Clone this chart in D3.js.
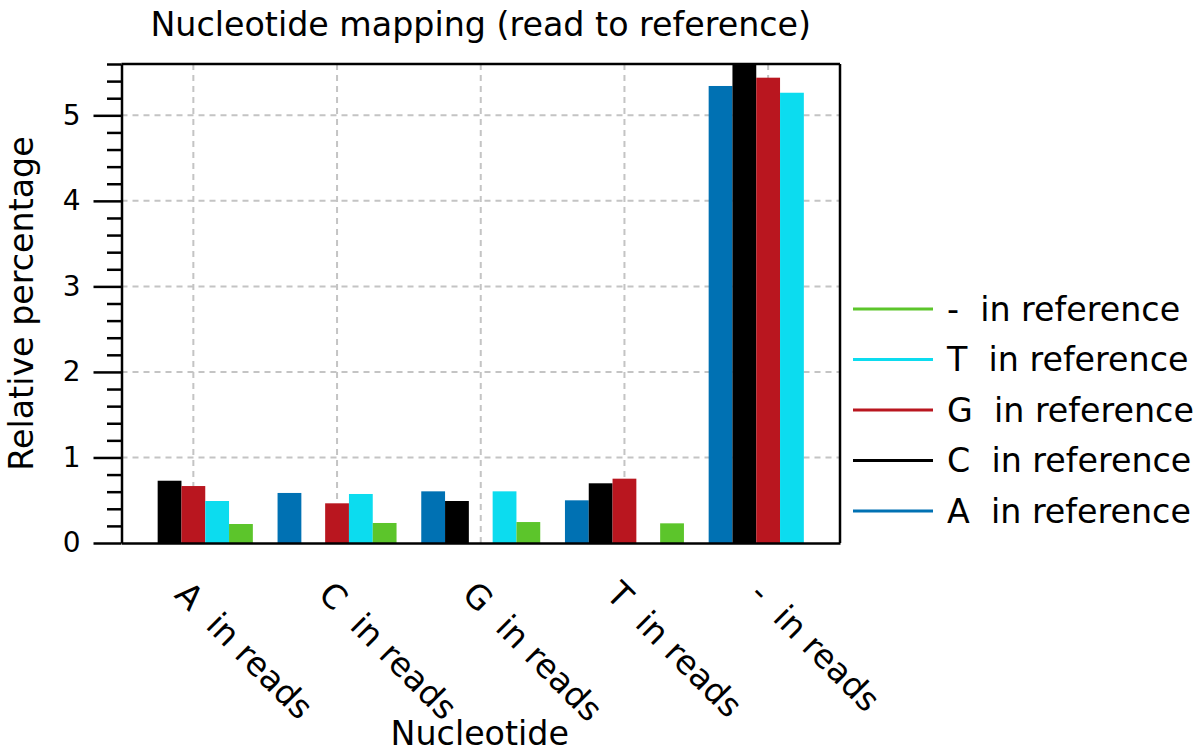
<!DOCTYPE html>
<html>
<head>
<meta charset="utf-8">
<script src="https://cdn.jsdelivr.net/npm/d3@7"></script>
<style>
  html, body { margin: 0; padding: 0; background: #fff; }
  svg { display: block; font-family: "DejaVu Sans", sans-serif; }
</style>
</head>
<body>
<svg id="chart" width="1203" height="753"></svg>
<script>
// ---- data ----
const categories = ["A  in reads", "C  in reads", "G  in reads", "T  in reads", "-  in reads"];
const seriesNames = ["A  in reference", "C  in reference", "G  in reference", "T  in reference", "-  in reference"];
const aInRef    = [0,     0.585, 0.604, 0.499, 5.343];
const cInRef    = [0.728, 0,     0.491, 0.698, 5.600];
const gInRef    = [0.666, 0.464, 0,     0.752, 5.440];
const tInRef    = [0.491, 0.573, 0.604, 0,     5.264];
const dashInRef = [0.222, 0.234, 0.245, 0.230, 0];
const yMajorTicks = [0, 1, 2, 3, 4, 5];
const seriesColors = ["#0071b3", "#000000", "#b9161f", "#0cdcef", "#5cc52b"];
const legendOrder = [4, 3, 2, 1, 0];
const titleText = "Nucleotide mapping (read to reference)";
const xLabelText = "Nucleotide";
const yLabelText = "Relative percentage";

const seriesValues = [aInRef, cInRef, gInRef, tInRef, dashInRef];
const FS = 33.3;

// ---- layout ----
const L = 121.5, R = 840, T = 64, B = 543;
const svg = d3.select("#chart");

const x = d3.scaleBand().domain(categories).range([L, R]).padding(0);
const groupW = x.bandwidth() * 0.828;
const xs = d3.scaleBand().domain(seriesNames).range([0, groupW]).padding(0);
const y = d3.scaleLinear().domain([0, 5.6]).range([B, T]);

// grid
const grid = svg.append("g").attr("stroke", "#c4c4c4").attr("stroke-width", 2).attr("stroke-dasharray", "6,5");
grid.selectAll("line.v").data(categories).join("line")
  .attr("x1", d => x(d) + x.bandwidth() / 2).attr("x2", d => x(d) + x.bandwidth() / 2)
  .attr("y1", B).attr("y2", T);
grid.selectAll("line.h").data(yMajorTicks.filter(v => v > 0)).join("line")
  .attr("x1", L).attr("x2", R).attr("y1", d => y(d)).attr("y2", d => y(d));

// bars
const bars = [];
seriesNames.forEach((s, si) => {
  categories.forEach((c, ci) => {
    bars.push({ s, c, si, v: seriesValues[si][ci] });
  });
});
svg.append("g").selectAll("rect").data(bars.filter(d => d.v > 0)).join("rect")
  .attr("x", d => x(d.c) + (x.bandwidth() - groupW) / 2 + xs(d.s))
  .attr("width", xs.bandwidth())
  .attr("y", d => y(d.v))
  .attr("height", d => B - y(d.v))
  .attr("fill", d => seriesColors[d.si]);

// frame (top and right)
svg.append("line").attr("x1", L).attr("x2", R).attr("y1", T).attr("y2", T).attr("stroke", "#000").attr("stroke-width", 2.5);
svg.append("line").attr("x1", R).attr("x2", R).attr("y1", T).attr("y2", B).attr("stroke", "#000").attr("stroke-width", 2.5);

// y axis minor
const minorTicks = d3.range(0, 28 + 1).map(i => +(i * 0.2).toFixed(1)).filter(v => !yMajorTicks.includes(v));
const yMinor = svg.append("g").attr("transform", `translate(${L},0)`)
  .call(d3.axisLeft(y).tickValues(minorTicks).tickSize(14.5).tickFormat(""));
yMinor.select(".domain").remove();
yMinor.selectAll("line").attr("stroke", "#000").attr("stroke-width", 2.5);

// y axis major
const yAxis = svg.append("g").attr("transform", `translate(${L},0)`)
  .call(d3.axisLeft(y).tickValues(yMajorTicks).tickSize(28).tickSizeOuter(0).tickPadding(13).tickFormat(d3.format("d")));
yAxis.select(".domain").attr("stroke", "#000").attr("stroke-width", 2.5);
yAxis.selectAll("line").attr("stroke", "#000").attr("stroke-width", 2.5);
yAxis.selectAll("text").attr("font-size", 28).attr("font-family", "DejaVu Sans").attr("fill", "#000");

// x axis
const xAxis = svg.append("g").attr("transform", `translate(0,${B})`)
  .call(d3.axisBottom(x).tickSize(0).tickSizeOuter(0));
xAxis.select(".domain").attr("stroke", "#000").attr("stroke-width", 2.5);
xAxis.selectAll("text")
  .attr("font-size", FS).attr("font-family", "DejaVu Sans").attr("fill", "#000")
  .attr("text-anchor", "start").attr("x", 0).attr("y", 0).attr("dy", 0)
  .attr("transform", "translate(-20,53) rotate(45)")
  .style("white-space", "pre").attr("xml:space", "preserve");

// title & labels
svg.append("text").attr("x", (L + R) / 2).attr("y", 36).attr("text-anchor", "middle")
  .attr("font-size", FS).text(titleText);
svg.append("text").attr("x", (L + R) / 2 - 1).attr("y", 745).attr("text-anchor", "middle")
  .attr("font-size", FS).text(xLabelText);
svg.append("text").attr("transform", `translate(33,${(T + B) / 2}) rotate(-90)`).attr("text-anchor", "middle")
  .attr("font-size", FS).text(yLabelText);

// legend
const lg = svg.append("g");
legendOrder.forEach((si, i) => {
  const ly = 309 + i * 50.5;
  lg.append("line").attr("x1", 853).attr("x2", 933).attr("y1", ly).attr("y2", ly)
    .attr("stroke", seriesColors[si]).attr("stroke-width", 3);
  lg.append("text").attr("x", 947).attr("y", ly).attr("dy", "0.36em")
    .attr("font-size", FS).style("white-space", "pre").text(seriesNames[si]);
});
</script>
</body>
</html>
